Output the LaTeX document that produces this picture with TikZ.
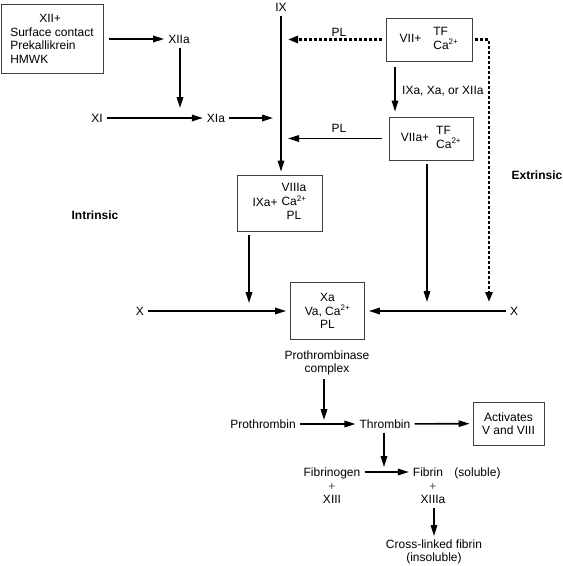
\documentclass[tikz,border=0pt]{standalone}
\usepackage{fontspec}
\setmainfont{Liberation Sans}
\usetikzlibrary{arrows.meta}
\begin{document}
\begin{tikzpicture}[x=1pt,y=-1pt,
  font=\fontsize{12}{13.5}\selectfont,
  lbl/.style={inner sep=4pt,text height=8.6pt,text depth=0pt},
  box/.style={draw=black!75,line width=0.9pt,inner sep=0pt,align=center},
  arr/.style={-{Triangle[length=11pt,width=6.5pt]},line width=1.6pt},
  dotarr/.style={-{Triangle[length=10pt,width=7pt]},line width=2.8pt,dash pattern=on 2.8pt off 2.2pt}]
\useasboundingbox (0,0) rectangle (563,566);

\node[box,minimum width=102,minimum height=69,align=left] (xiibox) at (52,39)
  {\hspace*{29pt}XII+\\Surface contact\\Prekallikrein\\HMWK};
\node[box,minimum width=86,minimum height=43] (vii) at (429,39.5)
  {VII+\hspace{12pt}\begin{tabular}{@{}l@{}}TF\\Ca\textsuperscript{2+}\end{tabular}};
\node[box,minimum width=84,minimum height=43] (viia) at (431,138.5)
  {VIIa+\hspace{7pt}\begin{tabular}{@{}l@{}}TF\\Ca\textsuperscript{2+}\end{tabular}};
\node[box,minimum width=85,minimum height=56] (ixa) at (279.5,203)
  {IXa+\hspace{4pt}\begin{tabular}{@{}c@{}}VIIIa\\Ca\textsuperscript{2+}\\PL\end{tabular}};
\node[box,minimum width=74,minimum height=57] (xa) at (327.5,311)
  {Xa\\Va, Ca\textsuperscript{2+}\\PL};
\node[box,minimum width=71,minimum height=43] (act) at (508.5,423.5)
  {Activates\\V and VIII};

\foreach \n/\x/\y/\t in {xiia/179/39/XIIa,xi/97/118/XI,xia/216/118/XIa,ix/281/7/IX,
  pla/339/32/PL,plb/339/128/PL,xl/140/311/X,xr/514/311/X,
  pt/263/424/Prothrombin,th/385/424/Thrombin,fg/332/472/Fibrinogen,
  fb/428/472/Fibrin,sol/477.5/472/(soluble),xiii/332/499/XIII,xiiia/433/499/XIIIa}
  \node[lbl] (\n) at (\x,\y) {\t};

\node[lbl,text=black!70] (pla) at (332,486) {+};
\node[lbl,text=black!70] (plb) at (433,486) {+};
\node[lbl,anchor=west,inner sep=0pt] (via) at (402,90) {IXa, Xa, or XIIa};
\node[font=\fontsize{12}{13.5}\selectfont\bfseries] (intr) at (95,215) {Intrinsic};
\node[font=\fontsize{12}{13.5}\selectfont\bfseries] (extr) at (537,175) {Extrinsic};
\node[align=center] (pc) at (327,363) {Prothrombinase\\complex};
\node[align=center] (cl) at (434,552) {Cross-linked fibrin\\(insoluble)};

\coordinate (xiiaend) at (180,108);
\coordinate (ixaend) at (249,303);
\coordinate (viiaend) at (427,302);
\coordinate (extend) at (489,302);
\coordinate (pcend) at (324,420);
\coordinate (thend) at (384,467);
\coordinate (clend) at (434,536);

\draw[arr,shorten <=6pt] (xiibox) -- (xiia);
\draw[arr] (xiia.south -| xiiaend) -- (xiiaend);
\draw[arr] (xi) -- (xia);
\draw[arr,shorten >=8pt] (xia) -- (xia -| ix);
\draw[arr,shorten >=3pt] (ix) -- (ix |- ixa.north);
\draw[dotarr,shorten <=4pt,shorten >=7pt] (vii) -- (vii -| ix);
\draw[arr,shorten <=7pt,shorten >=7pt] (viia) -- (viia -| ix);
\draw[arr,shorten <=6pt,shorten >=5pt] ([xshift=-34pt]vii.south) -- ([xshift=-34pt]vii.south |- viia.north);
\draw[dotarr,shorten <=3pt] (vii.east) -| (extend);
\draw[arr,shorten <=4pt] (viiaend |- viia.south) -- (viiaend);
\draw[arr,shorten <=4pt] (ixaend |- ixa.south) -- (ixaend);
\draw[arr,shorten >=4pt] (xl) -- (xa);
\draw[arr,shorten >=4pt] (xr) -- (xa);
\draw[arr] (pcend |- pc.south) -- (pcend);
\draw[arr] (pt) -- (th);
\draw[arr,shorten >=3pt] (th) -- (act);
\draw[arr] (th.south -| thend) -- (thend);
\draw[arr] (fg) -- (fb);
\draw[arr] (xiiia.south -| clend) -- (clend);

\end{tikzpicture}
\end{document}
